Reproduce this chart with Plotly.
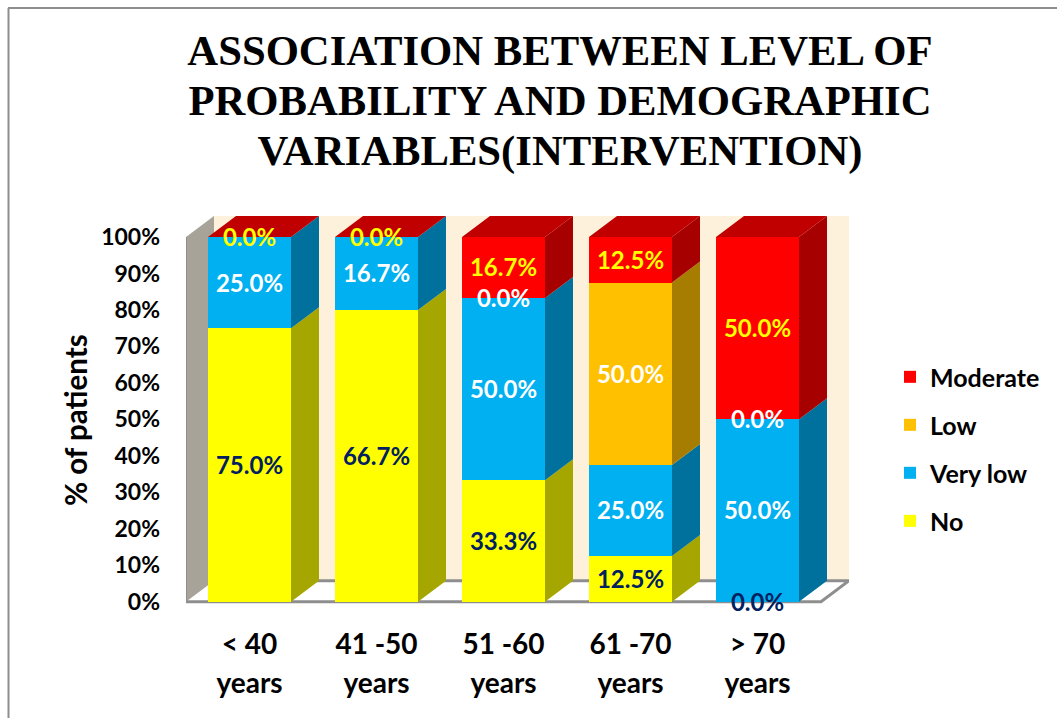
import plotly.graph_objects as go

# Age groups and the patient share per probability level
categories = ["< 40", "41 -50", "51 -60", "61 -70", "> 70"]
no_values = [75.0, 66.7, 33.3, 12.5, 0.0]
very_low_values = [25.0, 16.7, 50.0, 25.0, 50.0]
low_values = [None, None, 0.0, 50.0, 0.0]
moderate_values = [0.0, 0.0, 16.7, 12.5, 50.0]
y_ticks = [0, 10, 20, 30, 40, 50, 60, 70, 80, 90, 100]

series = [
    ("No", no_values, "#FFFF00", "#A6A600", "#002060"),
    ("Very low", very_low_values, "#00B0F0", "#00719C", "#FFFFFF"),
    ("Low", low_values, "#FFC000", "#A67D00", "#FFFFFF"),
    ("Moderate", moderate_values, "#FF0000", "#A60000", "#FFFF00"),
]

# Page geometry of the plot area; the axis runs a little below zero so that
# a label sitting on the floor line is kept
WIDTH, HEIGHT = 1057, 718
UNIT_X = 127.0
UNIT_Y = 3.645
Y_MIN = -2.0
LEFT, RIGHT, TOP, BOTTOM = 186, 849, 216, 601.5 - Y_MIN * UNIT_Y
BAR_WIDTH = 83 / UNIT_X
DEPTH_X = 28 / UNIT_X
DEPTH_Y = 21 / UNIT_Y
X_MIN, X_MAX = 0.5, 5.5 + DEPTH_X
Y_MAX = 100 + DEPTH_Y
LABEL_FONT = "Lato, Carlito, sans-serif"
LABEL_DROP = 0.8  # optical centring of the data labels inside a segment

positions = list(range(1, len(categories) + 1))
totals = [sum(s[1][i] or 0 for s in series) for i in range(len(positions))]

fig = go.Figure()

# Front faces, normalised to 100 % per age group
for rank, (name, values, color, _, _) in enumerate(series):
    fig.add_trace(go.Bar(
        x=positions, y=values, name=name, width=BAR_WIDTH,
        marker=dict(color=color, line=dict(width=0)),
        legendgroup=name, legendrank=len(series) - rank, hoverinfo="skip",
    ))

# Side faces and data labels follow the stacked segment limits
base = [0.0] * len(positions)
label_sets = []
for name, values, _, side, text_color in series:
    xs, ys, lx, ly, lt = [], [], [], [], []
    for i, p in enumerate(positions):
        v = values[i]
        if v is None:
            continue
        lo = base[i]
        hi = lo + v / totals[i] * 100
        edge = p + BAR_WIDTH / 2
        xs += [edge, edge + DEPTH_X, edge + DEPTH_X, edge, edge, None]
        ys += [lo, lo + DEPTH_Y, hi + DEPTH_Y, hi, lo, None]
        lx.append(p)
        ly.append((lo + hi) / 2 - LABEL_DROP)
        lt.append(f"{v:.1f}%")
        base[i] = hi
    fig.add_trace(go.Scatter(
        x=xs, y=ys, mode="lines", fill="toself", fillcolor=side,
        line=dict(width=0, color=side), showlegend=False, hoverinfo="skip",
    ))
    label_sets.append((lx, ly, lt, text_color))

# Top faces carry the colour of the uppermost series
top_x, top_y = [], []
for p in positions:
    a = p - BAR_WIDTH / 2
    b = p + BAR_WIDTH / 2
    top_x += [a, b, b + DEPTH_X, a + DEPTH_X, a, None]
    top_y += [100, 100, Y_MAX, Y_MAX, 100, None]
fig.add_trace(go.Scatter(
    x=top_x, y=top_y, mode="lines", fill="toself", fillcolor="#C00000",
    line=dict(width=0, color="#C00000"), showlegend=False, hoverinfo="skip",
))

for lx, ly, lt, text_color in label_sets:
    fig.add_trace(go.Scatter(
        x=lx, y=ly, text=lt, mode="text", textposition="middle center",
        textfont=dict(family=LABEL_FONT, size=24, color=text_color, weight="bold"),
        cliponaxis=False, showlegend=False, hoverinfo="skip",
    ))

GREY = "#8E8E8E"
wall_shapes = [
    # back wall
    dict(type="rect", x0=X_MIN + DEPTH_X, x1=X_MAX, y0=DEPTH_Y, y1=Y_MAX,
         fillcolor="#FEF1DC", line=dict(width=0), layer="below"),
    # left wall
    dict(type="path",
         path=f"M {X_MIN} 0 L {X_MIN} 100 L {X_MIN + DEPTH_X} {Y_MAX} L {X_MIN + DEPTH_X} {DEPTH_Y} Z",
         fillcolor="#A8A398", line=dict(width=0), layer="below"),
    # floor outline
    dict(type="path",
         path=f"M {X_MIN} 0 L {X_MAX - DEPTH_X} 0 L {X_MAX} {DEPTH_Y} L {X_MIN + DEPTH_X} {DEPTH_Y}",
         line=dict(color=GREY, width=3), layer="below"),
    dict(type="line", x0=X_MIN, x1=X_MIN, y0=0, y1=100,
         line=dict(color=GREY, width=2), layer="below"),
]


def page_x(px):
    return (px - LEFT) / (RIGHT - LEFT)


def page_y(px):
    return (BOTTOM - px) / (BOTTOM - TOP)


frame = [
    dict(type="line", xref="paper", yref="paper",
         x0=page_x(8.5), x1=page_x(8.5), y0=page_y(8), y1=page_y(HEIGHT),
         line=dict(color=GREY, width=2)),
    dict(type="line", xref="paper", yref="paper",
         x0=page_x(8), x1=page_x(WIDTH), y0=page_y(8), y1=page_y(8),
         line=dict(color=GREY, width=2)),
]

title_lines = ["ASSOCIATION BETWEEN LEVEL OF", "PROBABILITY AND DEMOGRAPHIC", "VARIABLES(INTERVENTION)"]
title_text = "<br>".join(f'<span style="font-size:42.7px">{t}</span>' for t in title_lines)
tick_text = [f'<span style="font-size:28px">{c}<br>years</span>' for c in categories]

fig.update_layout(
    width=WIDTH, height=HEIGHT, autosize=False,
    margin=dict(l=LEFT, r=WIDTH - RIGHT, t=TOP, b=HEIGHT - BOTTOM, autoexpand=False),
    paper_bgcolor="white", plot_bgcolor="white",
    barmode="stack", barnorm="percent",
    shapes=wall_shapes + frame,
    title=dict(
        text=title_text, x=560 / WIDTH, xanchor="center", y=1 - 65 / HEIGHT, yanchor="top",
        font=dict(family="Liberation Serif, Times New Roman, serif", size=38.5, color="black", weight="bold"),
    ),
    xaxis=dict(
        range=[X_MIN, X_MAX], tickmode="array", tickvals=positions, ticktext=tick_text,
        showgrid=False, zeroline=False, showline=False, ticks="",
        ticklabelstandoff=14,
        tickfont=dict(family=LABEL_FONT, size=30, color="black", weight="bold"),
    ),
    yaxis=dict(
        range=[Y_MIN, Y_MAX], tickmode="array", tickvals=y_ticks,
        ticktext=[f"{t}%" for t in y_ticks],
        showgrid=False, zeroline=False, showline=False, ticks="",
        ticklabelstandoff=25,
        tickfont=dict(family=LABEL_FONT, size=23, color="black", weight="bold"),
    ),
    annotations=[dict(
        text="% of patients", textangle=-90, showarrow=False,
        xref="paper", yref="paper", x=page_x(75), y=page_y(420),
        xanchor="center", yanchor="middle",
        font=dict(family=LABEL_FONT, size=29.5, color="black", weight="bold"),
    )],
    legend=dict(
        x=page_x(890), y=page_y(354), xanchor="left", yanchor="top",
        traceorder="grouped", tracegroupgap=12.5,
        font=dict(family=LABEL_FONT, size=25, color="black", weight="bold"),
        bgcolor="rgba(0,0,0,0)",
    ),
)

fig.write_html("out.html")
